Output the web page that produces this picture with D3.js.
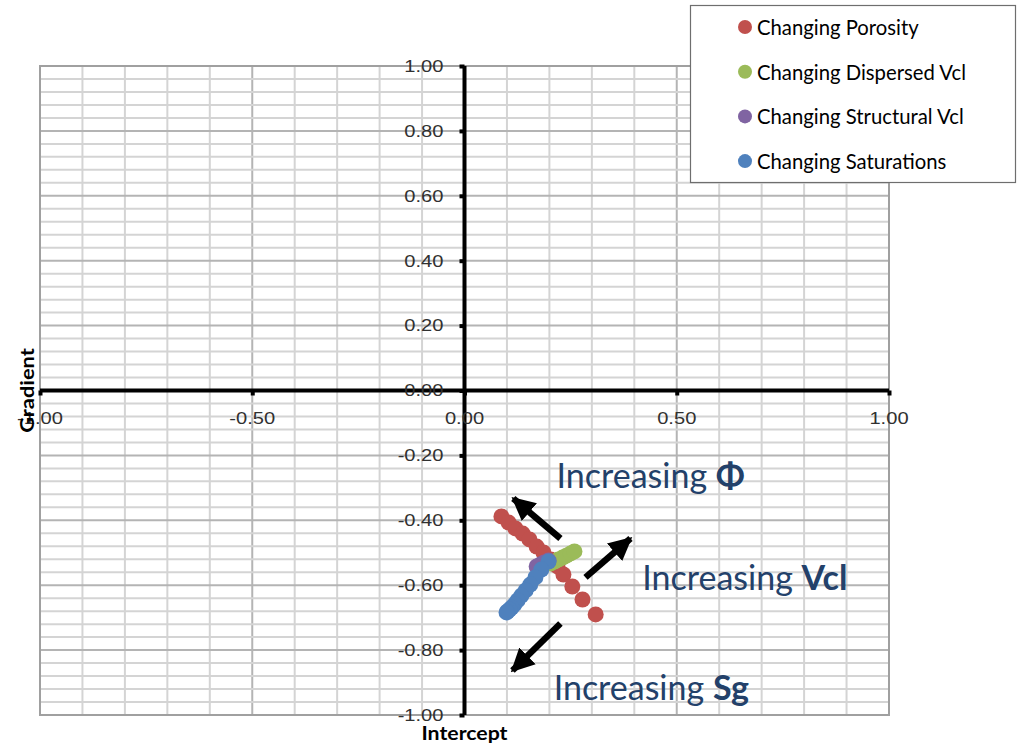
<!DOCTYPE html>
<html><head><meta charset="utf-8">
<script src="https://cdn.jsdelivr.net/npm/d3@7"></script>
<style>body{margin:0;background:#fff;} svg{display:block;}</style>
</head><body>
<svg id="chart" width="1017" height="744"></svg>
<script>
// ---- data ----
const seriesNames = ["Changing Porosity","Changing Dispersed Vcl","Changing Structural Vcl","Changing Saturations"];
const seriesColors = ["#C0504D","#9BBB59","#8064A2","#4F81BD"];
const porosityX = [0.087,0.104,0.120,0.137,0.153,0.170,0.186,0.203,0.219,0.233,0.254,0.278,0.309];
const porosityY = [-0.388,-0.407,-0.425,-0.441,-0.459,-0.481,-0.499,-0.521,-0.542,-0.567,-0.604,-0.644,-0.690];
const dispVclX = [0.203,0.212,0.221,0.231,0.240,0.250,0.259];
const dispVclY = [-0.533,-0.527,-0.521,-0.515,-0.509,-0.502,-0.496];
const structVclX = [0.170,0.179,0.188,0.198];
const structVclY = [-0.542,-0.536,-0.530,-0.524];
const satX = [0.198,0.181,0.167,0.155,0.144,0.134,0.125,0.118,0.111,0.106,0.101,0.099];
const satY = [-0.527,-0.552,-0.576,-0.598,-0.616,-0.632,-0.647,-0.659,-0.669,-0.675,-0.681,-0.684];
const xTicks = [-1.0,-0.5,0.0,0.5,1.0];
const yTicks = [-1.0,-0.8,-0.6,-0.4,-0.2,0.0,0.2,0.4,0.6,0.8,1.0];
const xAxisTitle = "Intercept";
const yAxisTitle = "Gradient";
const arrowTails = [[0.226,-0.456],[0.285,-0.576],[0.226,-0.718]];
const arrowTips  = [[0.115,-0.333],[0.391,-0.456],[0.113,-0.863]];
const noteText = ["Increasing ","Increasing ","Increasing "];
const noteBold = ["Φ","Vcl","Sg"];
const notePos = [[0.217,-0.302],[0.419,-0.616],[0.210,-0.955]];

const svg = d3.select("#chart");
const L=40,R=889,T=66,B=715;
const x = d3.scaleLinear().domain([-1,1]).range([L,R]);
const y = d3.scaleLinear().domain([-1,1]).range([B,T]);

// grid
const g = svg.append("g");
const vMinor = d3.range(-10,11).map(i=>i/10);
const hMinor = d3.range(-25,26).map(i=>i*0.04);
g.selectAll(".vg").data(vMinor).enter().append("line")
  .attr("x1",d=>x(d)).attr("x2",d=>x(d)).attr("y1",T).attr("y2",B)
  .attr("stroke",d=>Math.abs(Math.round(d*10))%5===0?"#b4b4b4":"#d4d4d4").attr("stroke-width",2);
g.selectAll(".hg").data(hMinor).enter().append("line")
  .attr("y1",d=>y(d)).attr("y2",d=>y(d)).attr("x1",L).attr("x2",R)
  .attr("stroke",d=>Math.abs(Math.round(d*100))%20===0?"#b4b4b4":"#d4d4d4").attr("stroke-width",2);
g.append("rect").attr("x",L).attr("y",T).attr("width",R-L).attr("height",B-T)
  .attr("fill","none").attr("stroke","#a0a0a0").attr("stroke-width",2);

// axes
const xAxis = d3.axisBottom(x).tickValues(xTicks).tickSize(5).tickFormat(()=> "");
const yAxis = d3.axisLeft(y).tickValues(yTicks).tickSize(5).tickFormat(()=> "");
const xa = svg.append("g").attr("transform",`translate(0,${y(0)})`).call(xAxis);
const ya = svg.append("g").attr("transform",`translate(${x(0)},0)`).call(yAxis);
[xa,ya].forEach(a=>{
  a.select(".domain").attr("stroke","#000").attr("stroke-width",4);
  a.selectAll(".tick line").attr("stroke","#000").attr("stroke-width",4);
});
xa.select(".domain").attr("d",`M${L},0H${R}`);
ya.select(".domain").attr("d",`M0,${T}V${B}`);

const lblFont = "'Liberation Sans', Arial, sans-serif";
// x tick labels
svg.selectAll(".xl").data(xTicks).enter().append("text")
  .attr("transform",d=>`translate(${x(d)},${y(0)+33}) scale(1.22,1)`)
  .attr("text-anchor","middle").attr("font-family",lblFont).attr("font-size",16.5).attr("fill","#303030")
  .text(d=>d.toFixed(2));
// y tick labels
svg.selectAll(".yl").data(yTicks).enter().append("text")
  .attr("transform",d=>`translate(${x(0)-21},${y(d)}) scale(1.22,1)`)
  .attr("text-anchor","end").attr("dominant-baseline","central").attr("font-family",lblFont).attr("font-size",16.5).attr("fill","#303030")
  .text(d=>d.toFixed(2));

// axis titles
svg.append("text").attr("transform",`translate(${x(0)},740) scale(1.15,1)`).attr("text-anchor","middle")
  .attr("font-family","Lato, 'Open Sans', sans-serif").attr("font-weight","bold").attr("font-size",18.5).attr("fill","#000").text(xAxisTitle);
svg.append("text").attr("transform",`translate(34,${y(0)}) rotate(-90) scale(1.15,1)`).attr("text-anchor","middle")
  .attr("font-family","Lato, 'Open Sans', sans-serif").attr("font-weight","bold").attr("font-size",19).attr("fill","#000").text(yAxisTitle);

// series
const seriesX=[porosityX,dispVclX,structVclX,satX];
const seriesY=[porosityY,dispVclY,structVclY,satY];
seriesX.forEach((xs,si)=>{
  const pts = xs.map((v,i)=>[v,seriesY[si][i]]);
  svg.append("g").selectAll("circle").data(pts).enter().append("circle")
    .attr("cx",d=>x(d[0])).attr("cy",d=>y(d[1])).attr("r",8).attr("fill",seriesColors[si]);
});

// arrows
const defs = svg.append("defs");
defs.append("marker").attr("id","ah").attr("viewBox","0 0 10 10").attr("refX",9).attr("refY",5)
  .attr("markerWidth",3.6).attr("markerHeight",4).attr("orient","auto").attr("markerUnits","strokeWidth")
  .append("path").attr("d","M0,0L10,5L0,10Z").attr("fill","#000");
arrowTails.forEach((t,i)=>{
  const p = arrowTips[i];
  svg.append("line").attr("x1",x(t[0])).attr("y1",y(t[1])).attr("x2",x(p[0])).attr("y2",y(p[1]))
    .attr("stroke","#000").attr("stroke-width",6.5).attr("marker-end","url(#ah)");
});

// notes
notePos.forEach((p,i)=>{
  const t = svg.append("text").attr("x",x(p[0])).attr("y",y(p[1]))
    .attr("font-family","Lato, 'Open Sans', sans-serif").attr("font-size",34).attr("fill","#23416A");
  t.append("tspan").text(noteText[i]);
  t.append("tspan").attr("font-weight","bold").text(noteBold[i]);
});

// legend
const lg = svg.append("g");
lg.append("rect").attr("x",690.5).attr("y",5.5).attr("width",325).attr("height",177)
  .attr("fill","#fff").attr("stroke","#6e6e6e").attr("stroke-width",1.2);
seriesNames.forEach((n,i)=>{
  const cy = 27 + i*44.7;
  lg.append("circle").attr("cx",745).attr("cy",cy).attr("r",7).attr("fill",seriesColors[i]);
  lg.append("text").attr("x",757).attr("y",cy).attr("dominant-baseline","central")
    .attr("font-family","Lato, 'Open Sans', sans-serif").attr("font-size",20.3).attr("fill","#000").text(n);
});
</script>
</body></html>
